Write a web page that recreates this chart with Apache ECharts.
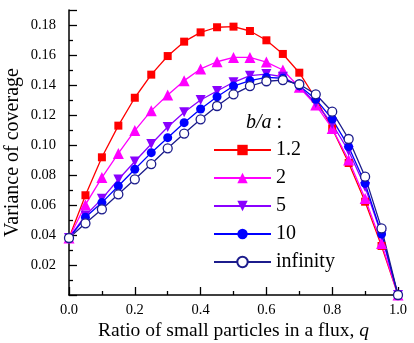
<!DOCTYPE html>
<html>
<head>
<meta charset="utf-8">
<script src="https://cdn.jsdelivr.net/npm/echarts@6/dist/echarts.min.js"></script>
<style>
  html, body { margin: 0; padding: 0; background: #fff; }
  #chart { width: 414px; height: 343px; }
</style>
</head>
<body>
<div id="chart"></div>
<script>
// q values, 0 .. 1 step 0.05
var qValues = [0, 0.05, 0.1, 0.15, 0.2, 0.25, 0.3, 0.35, 0.4, 0.45, 0.5,
               0.55, 0.6, 0.65, 0.7, 0.75, 0.8, 0.85, 0.9, 0.95, 1.0];

var seriesNames = ['1.2', '2', '5', '10', 'infinity'];

// variance of coverage
var ba12 = [0.038, 0.0665, 0.0918, 0.1129, 0.1315, 0.1469, 0.1593, 0.1689, 0.1751, 0.1785, 0.1789,
            0.176, 0.1698, 0.1607, 0.1482, 0.131, 0.111, 0.088, 0.0622, 0.0327, 0];
var ba2 = [0.038, 0.0602, 0.0783, 0.0944, 0.1096, 0.1229, 0.1333, 0.1429, 0.1507, 0.1555, 0.1584,
           0.1584, 0.1553, 0.150, 0.1385, 0.1267, 0.111, 0.090, 0.0644, 0.0344, 0];
var ba5 = [0.038, 0.053, 0.0641, 0.077, 0.089, 0.1007, 0.112, 0.1218, 0.130, 0.136, 0.1418,
           0.1462, 0.1473, 0.1455, 0.139, 0.128, 0.114, 0.096, 0.072, 0.040, 0];
var ba10 = [0.038, 0.0518, 0.0616, 0.0727, 0.0838, 0.0949, 0.1049, 0.1149, 0.124, 0.1322, 0.1393,
            0.1429, 0.1451, 0.1445, 0.1395, 0.1305, 0.1173, 0.0989, 0.0744, 0.0407, 0];
var baInf = [0.038, 0.0478, 0.0571, 0.0671, 0.0771, 0.0873, 0.0978, 0.1076, 0.1171, 0.126, 0.1338,
             0.1393, 0.1425, 0.1433, 0.1405, 0.1338, 0.1222, 0.104, 0.0789, 0.0444, 0];

var xTicks = [0, 0.2, 0.4, 0.6, 0.8, 1.0];
var yTicks = [0.02, 0.04, 0.06, 0.08, 0.10, 0.12, 0.14, 0.16, 0.18];

function pairs(ys) {
    return qValues.map(function (q, i) { return [q, ys[i]]; });
}

function near(v, list) {
    return list.some(function (t) { return Math.abs(t - v) < 1e-6; });
}

var chart = echarts.init(document.getElementById('chart'));
var serif = '"Liberation Serif", "Times New Roman", serif';

function lineSeries(name, data, color, symbol, size, fill) {
    return {
        name: name,
        type: 'line',
        data: pairs(data),
        symbol: symbol,
        symbolSize: size,
        showAllSymbol: true,
        lineStyle: { color: color, width: 1.3 },
        itemStyle: { color: fill || color, borderColor: color, borderWidth: fill ? 1.3 : 0, opacity: 1 },
        emphasis: { disabled: true },
        animation: false
    };
}

var option = {
    backgroundColor: '#fff',
    animation: false,
    grid: { left: 69, right: 16, top: 10, bottom: 48, outerBoundsMode: 'none', containLabel: false },
    title: {
        text: '{i|b/a} {n|:}',
        left: 241,
        top: 108,
        textStyle: {
            fontWeight: 'normal',
            rich: {
                i: { fontFamily: serif, fontSize: 20, fontStyle: 'italic', fontWeight: 'normal', color: '#000' },
                n: { fontFamily: serif, fontSize: 20, fontWeight: 'normal', color: '#000' }
            }
        }
    },
    legend: {
        orient: 'vertical',
        left: 208,
        top: 135,
        itemWidth: 57,
        itemHeight: 13,
        itemGap: 8,
        data: seriesNames,
        textStyle: { fontFamily: serif, fontSize: 20, color: '#000' }
    },
    xAxis: {
        type: 'value',
        min: 0,
        max: 1,
        interval: 0.2,
        name: '{n|Ratio of small particles in a flux, }{i|q}',
        nameLocation: 'middle',
        nameGap: 26,
        nameMoveOverlap: false,
        nameTextStyle: {
            rich: {
                n: { fontFamily: serif, fontSize: 19.5, color: '#000' },
                i: { fontFamily: serif, fontSize: 19.5, fontStyle: 'italic', color: '#000' }
            }
        },
        axisLine: { lineStyle: { color: '#000', width: 1.5 } },
        axisTick: { inside: true, length: 8, lineStyle: { color: '#000', width: 1.3 } },
        minorTick: { show: true, splitNumber: 2, length: 4, lineStyle: { color: '#000', width: 1.3 } },
        splitLine: { show: false },
        axisLabel: {
            fontFamily: serif, fontSize: 14.5, color: '#000', margin: 8,
            formatter: function (v) { return near(v, xTicks) ? v.toFixed(1) : ''; }
        }
    },
    yAxis: {
        type: 'value',
        min: 0,
        max: 0.19,
        interval: 0.02,
        name: 'Variance of coverage',
        nameLocation: 'middle',
        nameGap: 46,
        nameMoveOverlap: false,
        nameTextStyle: { fontFamily: serif, fontSize: 20, color: '#000' },
        axisLine: { show: true, lineStyle: { color: '#000', width: 1.5 } },
        axisTick: { show: true, inside: true, length: 8, lineStyle: { color: '#000', width: 1.3 } },
        minorTick: { show: true, splitNumber: 2, length: 4, lineStyle: { color: '#000', width: 1.3 } },
        splitLine: { show: false },
        axisLabel: {
            fontFamily: serif, fontSize: 14.5, color: '#000', margin: 13,
            formatter: function (v) { return near(v, yTicks) ? v.toFixed(2) : ''; }
        }
    },
    series: [
        lineSeries('1.2', ba12, '#ff0000', 'rect', 8),
        lineSeries('2', ba2, '#ff00ff', 'triangle', 11),
        lineSeries('5', ba5, '#8a00ff', 'path://M0,0 L10,0 L5,9 Z', 10),
        lineSeries('10', ba10, '#0000ff', 'circle', 9),
        lineSeries('infinity', baInf, '#1c1c8c', 'circle', 9, '#ffffff')
    ]
};

chart.setOption(option);
</script>
</body>
</html>
